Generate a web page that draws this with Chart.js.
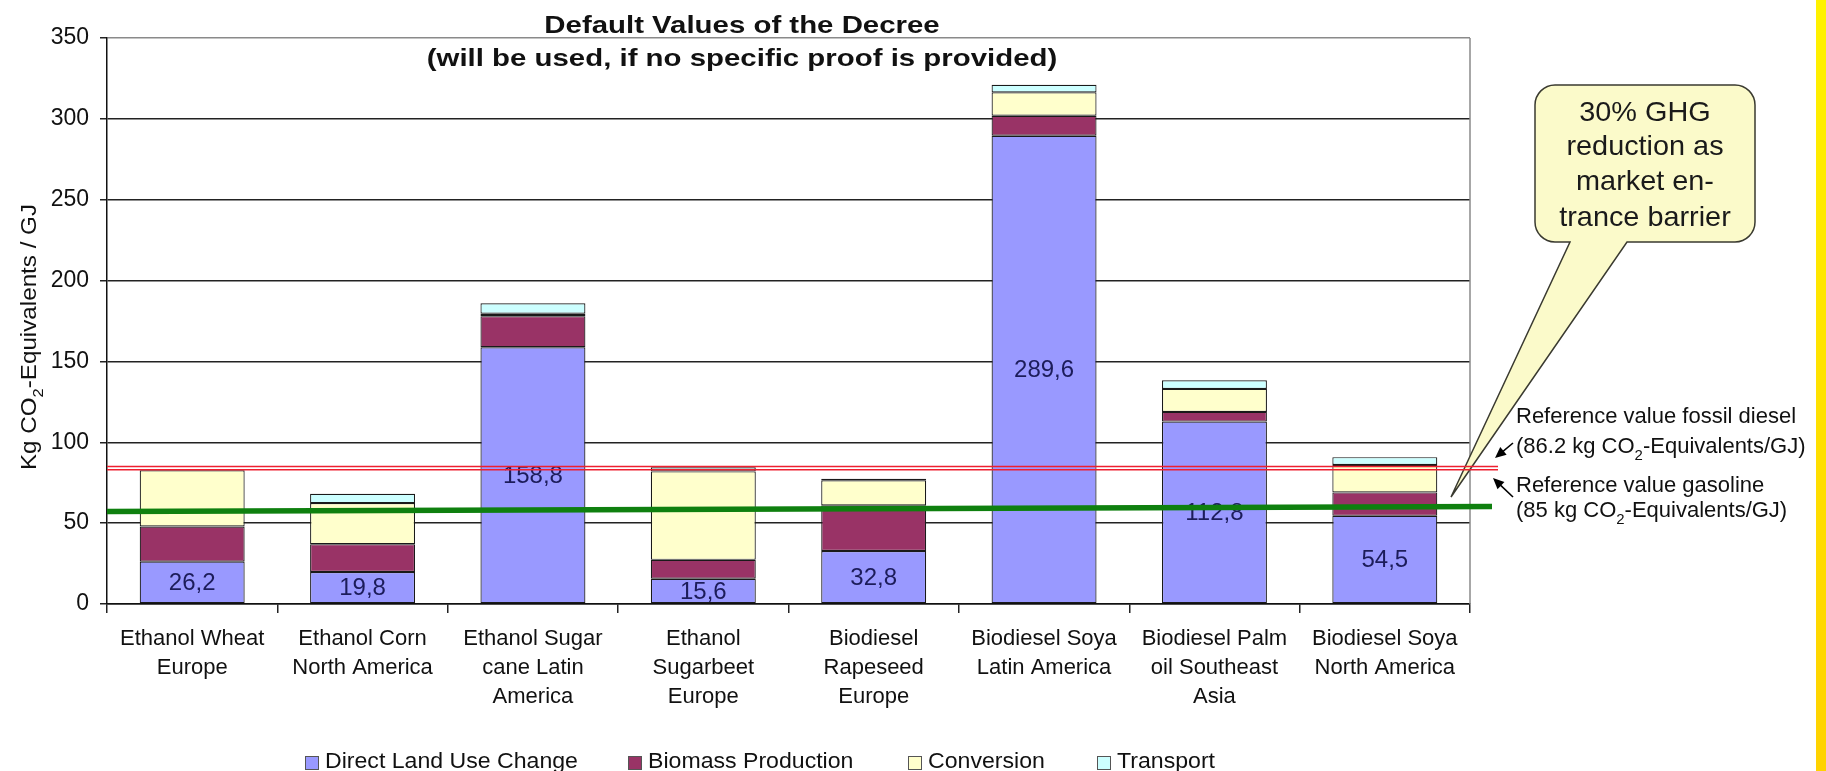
<!DOCTYPE html>
<html><head><meta charset="utf-8">
<script src="https://cdn.jsdelivr.net/npm/chart.js@4"></script>
<style>html,body{margin:0;padding:0;background:#fff;overflow:hidden}canvas{display:block}</style>
</head><body>
<canvas id="c" width="1826" height="771"></canvas>
<script>
// ---------- data ----------
const categories = [
  ["Ethanol Wheat","Europe"],
  ["Ethanol Corn","North America"],
  ["Ethanol Sugar","cane Latin","America"],
  ["Ethanol","Sugarbeet","Europe"],
  ["Biodiesel","Rapeseed","Europe"],
  ["Biodiesel Soya","Latin America"],
  ["Biodiesel Palm","oil Southeast","Asia"],
  ["Biodiesel Soya","North America"]
];
const seriesNames = ["Direct Land Use Change","Biomass Production","Conversion","Transport"];
const directLandUseChange = [26.2, 19.8, 158.8, 15.6, 32.8, 289.6, 112.8, 54.5];
const biomassProduction   = [21.7, 17.2, 19.2, 11.7, 28.2, 12.3, 6.0, 14.5];
const conversion          = [34.8, 25.4, 1.5, 54.7, 15.5, 14.5, 14.2, 17.0];
const transport           = [0.4, 5.8, 6.5, 2.5, 1.0, 4.7, 5.4, 4.8];
const yTicks = [0, 50, 100, 150, 200, 250, 300, 350];
const referenceLines = [85, 83];          // red double line
const barrierLine = [57.2, 60.3];         // green line, start and end value
const titleLines = ["Default Values of the Decree", "(will be used, if no specific proof is provided)"];
const calloutLines = ["30% GHG", "reduction as", "market en-", "trance barrier"];
const yTitleParts = [["Kg CO", false], ["2", true], ["-Equivalents / GJ", false]];
const noteDiesel = [[["Reference value fossil diesel", false]], [["(86.2 kg CO", false], ["2", true], ["-Equivalents/GJ)", false]]];
const noteGasoline = [[["Reference value gasoline", false]], [["(85 kg CO", false], ["2", true], ["-Equivalents/GJ)", false]]];

// ---------- styles ----------
const FAM = "'Liberation Sans', Arial, 'DejaVu Sans', sans-serif";
const colors = ["#9999FF", "#993366", "#FFFFCC", "#CCFFFF"];
Chart.defaults.font.family = FAM;
Chart.defaults.color = "#111";

function rich(ctx, parts, x, y, size, align, sx, bold, color) {
  ctx.save();
  ctx.translate(x, y);
  ctx.scale(sx, 1);
  ctx.fillStyle = color || "#111";
  const f = s => (bold ? "bold " : "") + s + "px " + FAM;
  let w = 0;
  parts.forEach(([t, sub]) => { ctx.font = f(sub ? size * 0.68 : size); w += ctx.measureText(t).width; });
  let cx = align === "center" ? -w / 2 : (align === "right" ? -w : 0);
  ctx.textAlign = "left"; ctx.textBaseline = "alphabetic";
  parts.forEach(([t, sub]) => {
    ctx.font = f(sub ? size * 0.68 : size);
    ctx.fillText(t, cx, sub ? size * 0.3 : 0);
    cx += ctx.measureText(t).width;
  });
  ctx.restore();
}

function arrow(ctx, x1, y1, x2, y2) {
  const a = Math.atan2(y2 - y1, x2 - x1), L = 11, W = 5;
  ctx.save();
  ctx.strokeStyle = "#000"; ctx.fillStyle = "#000"; ctx.lineWidth = 1.6;
  ctx.beginPath(); ctx.moveTo(x1, y1);
  ctx.lineTo(x2 - Math.cos(a) * L * 0.7, y2 - Math.sin(a) * L * 0.7); ctx.stroke();
  ctx.beginPath(); ctx.moveTo(x2, y2);
  ctx.lineTo(x2 - Math.cos(a) * L - Math.sin(a) * W, y2 - Math.sin(a) * L + Math.cos(a) * W);
  ctx.lineTo(x2 - Math.cos(a) * L + Math.sin(a) * W, y2 - Math.sin(a) * L - Math.cos(a) * W);
  ctx.closePath(); ctx.fill();
  ctx.restore();
}

const overlay = {
  id: "overlay",
  afterDatasetsDraw(chart) {
    const ctx = chart.ctx, ca = chart.chartArea, ys = chart.scales.y;
    // value labels in Direct Land Use Change segments
    const meta = chart.getDatasetMeta(0);
    ctx.save();
    ctx.font = "24px " + FAM; ctx.fillStyle = "#1c1c5a";
    ctx.textAlign = "center"; ctx.textBaseline = "middle";
    meta.data.forEach((el, i) => {
      const v = chart.data.datasets[0].data[i];
      ctx.fillText(v.toFixed(1).replace(".", ","), el.x, (el.y + el.base) / 2 + 1);
    });
    ctx.restore();

    // right border of plot
    ctx.save();
    ctx.strokeStyle = "#8a8a8a"; ctx.lineWidth = 1.5;
    ctx.beginPath(); ctx.moveTo(ca.right, ca.top); ctx.lineTo(ca.right, ca.bottom); ctx.stroke();
    ctx.restore();

    // callout bubble
    ctx.save();
    const L = 1535, T = 85, R = 1755, B = 242, r = 20, b1 = 1570, b2 = 1627, tipX = 1451, tipY = 497;
    ctx.beginPath();
    ctx.moveTo(L + r, T); ctx.lineTo(R - r, T); ctx.arcTo(R, T, R, T + r, r);
    ctx.lineTo(R, B - r); ctx.arcTo(R, B, R - r, B, r);
    ctx.lineTo(b2, B); ctx.lineTo(tipX, tipY); ctx.lineTo(b1, B);
    ctx.lineTo(L + r, B); ctx.arcTo(L, B, L, B - r, r);
    ctx.lineTo(L, T + r); ctx.arcTo(L, T, L + r, T, r); ctx.closePath();
    ctx.fillStyle = "#FBFACA"; ctx.fill();
    ctx.strokeStyle = "#3a3a30"; ctx.lineWidth = 1.5; ctx.stroke();
    ctx.restore();
    const cb = [121, 155, 190, 226];
    calloutLines.forEach((t, i) => rich(ctx, [[t, false]], 1645, cb[i], 28, "center", 1.03, false, "#1a1a1a"));

    // red reference lines
    ctx.save();
    ctx.strokeStyle = "#EE2030"; ctx.lineWidth = 1.4;
    referenceLines.forEach(v => {
      const y = ys.getPixelForValue(v);
      ctx.beginPath(); ctx.moveTo(ca.left, y); ctx.lineTo(ca.right + 28, y); ctx.stroke();
    });
    ctx.restore();

    // green barrier line
    ctx.save();
    ctx.strokeStyle = "#0f800f"; ctx.lineWidth = 5.5;
    ctx.beginPath();
    ctx.moveTo(ca.left, ys.getPixelForValue(barrierLine[0]));
    ctx.lineTo(ca.right + 22, ys.getPixelForValue(barrierLine[1]));
    ctx.stroke();
    ctx.restore();

    // title
    rich(ctx, [[titleLines[0], false]], 742, 33, 24, "center", 1.225, true, "#111");
    rich(ctx, [[titleLines[1], false]], 742, 66, 24, "center", 1.225, true, "#111");

    // y axis title
    ctx.save();
    ctx.translate(27, 337); ctx.rotate(-Math.PI / 2);
    rich(ctx, yTitleParts, 0, 9, 22, "center", 1.1, false, "#111");
    ctx.restore();

    // reference notes
    rich(ctx, noteDiesel[0], 1516, 423, 22, "left", 1.0, false, "#111");
    rich(ctx, noteDiesel[1], 1516, 453, 22, "left", 1.0, false, "#111");
    rich(ctx, noteGasoline[0], 1516, 492, 22, "left", 1.0, false, "#111");
    rich(ctx, noteGasoline[1], 1516, 517, 22, "left", 1.0, false, "#111");
    arrow(ctx, 1513, 443, 1495, 458);
    arrow(ctx, 1513, 497, 1493, 478);

    // legend
    const lx = [305, 628, 908, 1097];
    chart.data.datasets.forEach((ds, i) => {
      ctx.save();
      ctx.fillStyle = ds.backgroundColor; ctx.strokeStyle = "#555"; ctx.lineWidth = 1;
      ctx.fillRect(lx[i], 756, 14, 14); ctx.strokeRect(lx[i] + 0.5, 756.5, 13, 13);
      ctx.restore();
      rich(ctx, [[ds.label, false]], lx[i] + 20, 768, 22, "left", 1.05, false, "#111");
    });

    // yellow strip at right edge
    ctx.save();
    const g = ctx.createLinearGradient(0, 0, 0, 771);
    g.addColorStop(0, "#FFF200"); g.addColorStop(1, "#FFD200");
    ctx.fillStyle = g; ctx.fillRect(1816, 0, 10, 771);
    ctx.restore();
  }
};

const seriesData = [directLandUseChange, biomassProduction, conversion, transport];
new Chart(document.getElementById("c"), {
  type: "bar",
  data: {
    labels: categories,
    datasets: seriesNames.map((n, i) => ({
      label: n, data: seriesData[i], backgroundColor: colors[i],
      borderColor: "#1a1a1a", borderWidth: 1.2, borderSkipped: false,
      barPercentage: 0.616, categoryPercentage: 1.0
    }))
  },
  options: {
    responsive: false, animation: false,
    layout: { padding: { left: 0, right: 356, top: 38, bottom: 0 } },
    plugins: { legend: { display: false }, title: { display: false }, tooltip: { enabled: false } },
    scales: {
      x: {
        stacked: true,
        grid: { display: true, drawOnChartArea: false, drawTicks: true, tickLength: 9, offset: true, color: "#222", lineWidth: 1.5 },
        border: { display: true, color: "#111", width: 1.5 },
        ticks: { font: { size: 22, lineHeight: 1.32 }, color: "#111", padding: 11, maxRotation: 0, autoSkip: false },
        afterFit(s) { s.height = 167; }
      },
      y: {
        stacked: true, min: 0, max: 350,
        afterBuildTicks(s) { s.ticks = yTicks.map(v => ({ value: v })); },
        ticks: { font: { size: 23 }, color: "#111", padding: 11 },
        grid: { color: c => (c.tick && c.tick.value === 350 ? "#8a8a8a" : "#222"), lineWidth: 1.5, tickLength: 7, tickColor: "#222" },
        border: { display: true, color: "#111", width: 1.5 },
        afterFit(s) { s.width = 107; }
      }
    }
  },
  plugins: [overlay]
});
</script>
</body></html>
